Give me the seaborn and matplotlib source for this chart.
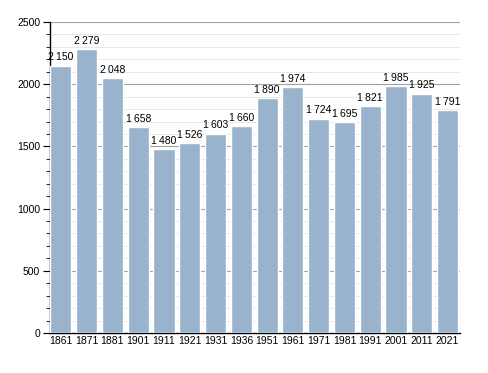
import matplotlib
matplotlib.use('Agg')
import matplotlib.pyplot as plt
import seaborn as sns
import pandas as pd
from matplotlib.ticker import MultipleLocator

# données du recensement
years = ['1861', '1871', '1881', '1901', '1911', '1921', '1931', '1936',
         '1951', '1961', '1971', '1981', '1991', '2001', '2011', '2021']
population = [2150, 2279, 2048, 1658, 1480, 1526, 1603, 1660,
              1890, 1974, 1724, 1695, 1821, 1985, 1925, 1791]

df = pd.DataFrame({'year': years, 'pop': population})

sns.set_style('white')
plt.rcParams['font.family'] = ['Liberation Sans', 'DejaVu Sans']
plt.rcParams['text.color'] = 'black'
plt.rcParams['xtick.color'] = 'black'
plt.rcParams['ytick.color'] = 'black'

fig = plt.figure(figsize=(4.88, 3.73), dpi=100)
ax = fig.add_axes([50 / 488, 40 / 373, 410 / 488, 311 / 373])

sns.barplot(data=df, x='year', y='pop', color='#9ab3cd', saturation=1,
            width=0.82, ax=ax, zorder=3)

ax.set_ylim(0, 2500)
ax.set_xlim(-0.42, len(years) - 0.52)
ax.yaxis.set_major_locator(MultipleLocator(500))
ax.yaxis.set_minor_locator(MultipleLocator(100))
ax.grid(axis='y', which='major', color='#a0a0a0', linewidth=0.8, zorder=0)
ax.grid(axis='y', which='minor', color='#e4e4e4', linewidth=0.6, zorder=0)
ax.set_axisbelow(True)

ax.tick_params(axis='y', which='major', length=5, width=0.8, color='black',
               labelsize=7.5, pad=2, left=True)
ax.tick_params(axis='y', which='minor', length=3, width=0.6, color='black', left=True)
ax.tick_params(axis='x', length=0, labelsize=7.5, pad=2)

for s in ['top', 'right']:
    ax.spines[s].set_visible(False)
for s in ['left', 'bottom']:
    ax.spines[s].set_color('black')
    ax.spines[s].set_linewidth(1)

ax.set_xlabel('')
ax.set_ylabel('')

# étiquettes au-dessus des barres
for i, v in enumerate(population):
    lab = f'{v:,}'.replace(',', '\u2009')
    ax.text(i, v + 25, lab, ha='center', va='bottom', fontsize=7.5,
            color='black', zorder=4)

fig.savefig('out.png', dpi=100)
